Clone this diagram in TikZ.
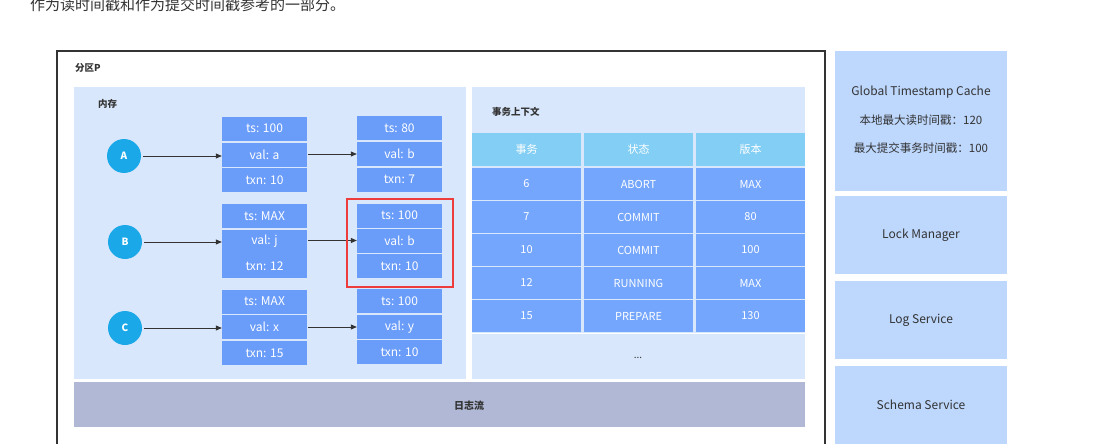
\documentclass[tikz,border=0pt]{standalone}
\usepackage{fontspec}
\setmainfont{Noto Sans CJK SC}
\usetikzlibrary{arrows.meta}
\definecolor{membg}{HTML}{D9E7FC}
\definecolor{cellblue}{HTML}{6A9CF9}
\definecolor{rowblue}{HTML}{74A6FD}
\definecolor{headblue}{HTML}{82CEF4}
\definecolor{circblue}{HTML}{1BA8E9}
\definecolor{logbg}{HTML}{B1B8D6}
\definecolor{sidebg}{HTML}{BDD7FD}
\definecolor{redbox}{HTML}{EE3B3B}
\definecolor{frame}{HTML}{333333}
\definecolor{txt}{HTML}{333333}
\tikzset{
  cell/.style={fill=cellblue, text=white, minimum width=85pt, minimum height=24pt, inner sep=0pt, font=\fontsize{12}{13}\selectfont},
  circ/.style={circle, fill=circblue, text=white, minimum size=34pt, inner sep=0pt, font=\fontsize{10}{11}\selectfont\bfseries},
  arr/.style={draw=frame, line width=0.8pt, -{Triangle[length=6pt,width=5pt]}},
  hcell/.style={fill=headblue, text=white, minimum width=109pt, minimum height=33pt, inner sep=0pt, font=\fontsize{11}{12}\selectfont},
  rcell/.style={fill=rowblue, text=white, minimum width=109pt, minimum height=32pt, inner sep=0pt, font=\fontsize{11}{12}\selectfont},
  ttl/.style={text=txt, font=\fontsize{9.5}{11}\selectfont\bfseries, inner sep=0pt},
  sidebox/.style={fill=sidebg, inner sep=0pt},
  sidetext/.style={text=txt, font=\fontsize{12}{13}\selectfont, inner sep=0pt},
}
\begin{document}
\begin{tikzpicture}[x=1pt,y=-1pt]
\useasboundingbox (0,0) rectangle (1103,444);
\clip (0,0) rectangle (1103,444);
\fill[white] (0,0) rectangle (1103,444);
% top text
\node[anchor=base west, inner sep=0pt, text=txt, font=\fontsize{15}{16}\selectfont] (toptext) at (30,11) {作为读时间戳和作为提交时间戳参考的一部分。};
% outer frame
\draw[frame, line width=1.3pt] (57,470) -- (57,51) -- (825,51) -- (825,470);
\node[ttl, anchor=west] (part) at (75,68) {分区P};
% memory
\fill[membg] (74,87) rectangle (466,379);
\node[ttl, anchor=west] (mem) at (98,104) {内存};
% circles
\node[circ] (A) at (124,156) {A};
\node[circ] (B) at (125,242) {B};
\node[circ] (C) at (125,328) {C};
% column 1
\node[cell] (a1t) at (264.5,128.5) {ts: 100};
\node[cell] (a1v) at (264.5,154.5) {val: a};
\node[cell] (a1x) at (264.5,180) {txn: 10};
\node[cell] (b1t) at (264.5,216) {ts: MAX};
\node[cell] (b1v) at (264.5,241.5) {val: j};
\node[cell] (b1x) at (264.5,266) {txn: 12};
\node[cell] (c1t) at (264.5,301.5) {ts: MAX};
\node[cell] (c1v) at (264.5,327) {val: x};
\node[cell] (c1x) at (264.5,353) {txn: 15};
% column 2
\node[cell] (a2t) at (399.5,128) {ts: 80};
\node[cell] (a2v) at (399.5,154) {val: b};
\node[cell] (a2x) at (399.5,179.5) {txn: 7};
\node[cell] (b2t) at (399.5,215.5) {ts: 100};
\node[cell] (b2v) at (399.5,240.5) {val: b};
\node[cell] (b2x) at (399.5,266) {txn: 10};
\node[cell] (c2t) at (399.5,301) {ts: 100};
\node[cell] (c2v) at (399.5,327) {val: y};
\node[cell] (c2x) at (399.5,352) {txn: 10};
% arrows
\draw[arr, shorten <=2pt] (A.east) -- (A.east -| a1v.west);
\draw[arr, shorten <=2pt] (B.east) -- (B.east -| b1v.west);
\draw[arr, shorten <=2pt] (C.east) -- (C.east -| c1v.west);
\draw[arr, shorten <=1pt] (a1v.east |- a2v) -- (a2v.west);
\draw[arr, shorten <=1pt] (b1v.east |- b2v) -- (b2v.west);
\draw[arr, shorten <=1pt] (c1v.east |- c2v) -- (c2v.west);
% red highlight
\node[draw=redbox, line width=2pt, minimum width=106pt, minimum height=88pt, inner sep=0pt] (hl) at (399.5,242.5) {};
% transaction context
\fill[membg] (472,87) rectangle (805,379);
\node[ttl, anchor=west] (ctx) at (492,112) {事务上下文};
\node[hcell] (h1) at (526.5,149.5) {事务};
\node[hcell] (h2) at (638.5,149.5) {状态};
\node[hcell] (h3) at (750.5,149.5) {版本};
\node[rcell] (r11) at (526.5,184) {6};
\node[rcell] (r12) at (638.5,184) {ABORT};
\node[rcell] (r13) at (750.5,184) {MAX};
\node[rcell] (r21) at (526.5,217) {7};
\node[rcell] (r22) at (638.5,217) {COMMIT};
\node[rcell] (r23) at (750.5,217) {80};
\node[rcell] (r31) at (526.5,250) {10};
\node[rcell] (r32) at (638.5,250) {COMMIT};
\node[rcell] (r33) at (750.5,250) {100};
\node[rcell] (r41) at (526.5,283) {12};
\node[rcell] (r42) at (638.5,283) {RUNNING};
\node[rcell] (r43) at (750.5,283) {MAX};
\node[rcell] (r51) at (526.5,316) {15};
\node[rcell] (r52) at (638.5,316) {PREPARE};
\node[rcell] (r53) at (750.5,316) {130};
\fill[white] (472,332.5) rectangle (805,334);
\node[text=txt, font=\fontsize{10}{11}\selectfont, inner sep=0pt] (dots) at (638,358) {...};
% log stream
\node[fill=logbg, minimum width=731pt, minimum height=45pt, inner sep=0pt] (log) at (439.5,404.5) {};
\node[text=txt, font=\fontsize{10}{11}\selectfont\bfseries, inner sep=0pt] (logt) at (469,406) {日志流};
% side boxes
\node[sidebox, minimum width=172pt, minimum height=140pt] (gtc) at (921,121) {};
\node[sidetext] (g1) at (921,92) {Global Timestamp Cache};
\node[sidetext, font=\fontsize{11.5}{13}\selectfont] (g2) at (921,120) {本地最大读时间戳：120};
\node[sidetext, font=\fontsize{11.5}{13}\selectfont] (g3) at (921,148) {最大提交事务时间戳：100};
\node[sidebox, minimum width=172pt, minimum height=78pt, sidetext] (lm) at (921,235) {Lock Manager};
\node[sidebox, minimum width=172pt, minimum height=78pt, sidetext] (ls) at (921,320) {Log Service};
\fill[sidebg] (835,366) rectangle (1007,470);
\node[sidetext] (ss) at (921,405) {Schema Service};
\end{tikzpicture}
\end{document}
